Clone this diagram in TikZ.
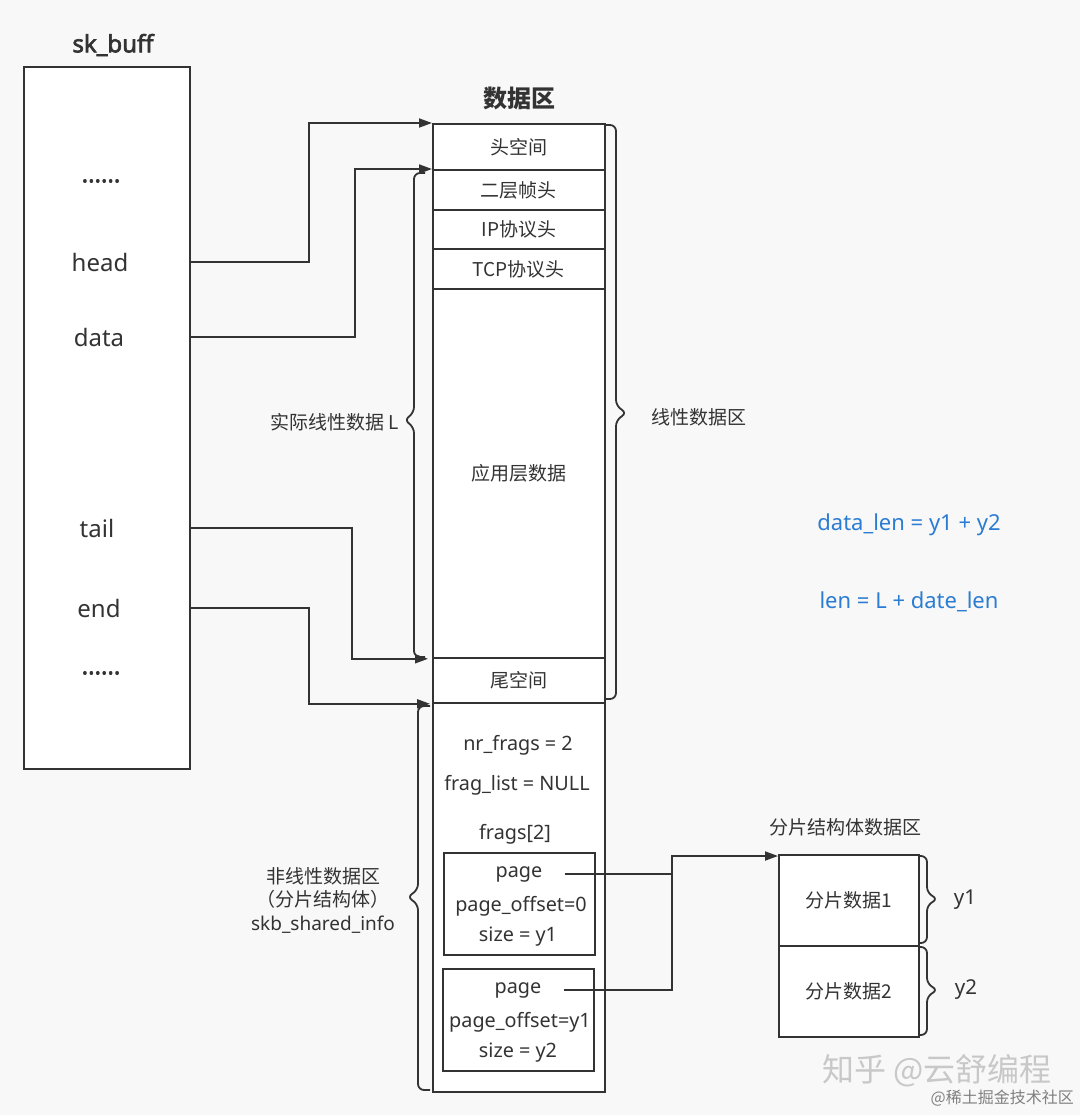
\documentclass[tikz,border=0pt]{standalone}
\usepackage{fontspec}
\setmainfont{Noto Sans}[BoldFont={Noto Sans},BoldFeatures={FakeBold=2.5}]
\newfontfamily\cjk{Noto Sans CJK SC}
\usetikzlibrary{arrows.meta,calc}
\definecolor{bg}{HTML}{F8F8F8}
\definecolor{ln}{HTML}{333333}
\definecolor{tx}{HTML}{333333}
\definecolor{blu}{HTML}{2B7CD3}
\definecolor{wm}{HTML}{C8C8C8}
\begin{document}
\begin{tikzpicture}[x=1pt,y=-1pt,
 box/.style={draw=ln,line width=1.8pt,fill=white,inner sep=0pt,anchor=north west,text=tx,font=\cjk\fontsize{19}{23}\selectfont},
 lbl/.style={text=tx,font=\fontsize{19.8}{23}\selectfont,inner sep=0pt},
 zh/.style={text=tx,font=\cjk\fontsize{19}{23}\selectfont,inner sep=0pt},
 item/.style={text=tx,font=\fontsize{24}{30}\selectfont,inner sep=0pt},
 ttl/.style={text=tx,font=\bfseries\fontsize{24}{28}\selectfont,inner sep=0pt},
 blue/.style={text=blu,font=\fontsize{22}{26}\selectfont,inner sep=0pt},
 arr/.style={draw=ln,line width=1.8pt,-{Triangle[length=13pt,width=9pt]}},
 wire/.style={draw=ln,line width=1.8pt},
 brace/.style={draw=ln,line width=1.8pt,rounded corners=6pt}]
\fill[bg] (0,0) rectangle (1080,1115);
\useasboundingbox (0,0) rectangle (1080,1115);

% sk_buff
\node[ttl] (skbt) at (113,45) {sk\_buff};
\node[box,minimum width=166pt,minimum height=702pt] (skb) at (23,66) {};
\node[item] (d1) at (101,181) {\bfseries ......};
\node[item] (hd) at (100,262) {head};
\node[item] (dt) at (99,337) {data};
\node[item] (tl) at (97,528) {tail};
\node[item] (en) at (99,608) {end};
\node[item] (d2) at (101,673) {\bfseries ......};

% data area
\node[ttl,font=\cjk\bfseries\fontsize{24}{28}\selectfont] (dat) at (519,98) {数据区};
\node[box,minimum width=172pt,minimum height=46pt] (hs) at (432,123) {头空间};
\node[box,minimum width=172pt,minimum height=40pt] (l2) at (432,169) {二层帧头};
\node[box,minimum width=172pt,minimum height=39pt] (ip) at (432,209) {IP协议头};
\node[box,minimum width=172pt,minimum height=40pt] (tcp) at (432,248) {TCP协议头};
\node[box,minimum width=172pt,minimum height=369pt] (app) at (432,288) {应用层数据};
\node[box,minimum width=172pt,minimum height=45pt] (ts) at (432,657) {尾空间};
\node[box,minimum width=172pt,minimum height=389pt] (nl) at (432,702) {};

\node[lbl] (nr) at (518,745) {nr\_frags = 2};
\node[lbl] (fl) at (517,785) {frag\_list = NULL};
\node[lbl] (fg) at (515,834) {frags[2]};

\node[box,minimum width=151pt,minimum height=102pt] (f1) at (443,852) {};
\node[lbl] (p1) at (519,874) {page};
\node[lbl] (o1) at (521,906) {page\_offset=0};
\node[lbl] (s1) at (518,937) {size = y1};

\node[box,minimum width=151pt,minimum height=102pt] (f2) at (442,968) {};
\node[lbl] (p2) at (518,990) {page};
\node[lbl] (o2) at (520,1022) {page\_offset=y1};
\node[lbl] (s2) at (518,1053) {size = y2};

% fragment data
\node[zh] (fdt) at (845,827) {分片结构体数据区};
\node[box,minimum width=140pt,minimum height=91pt] (fd1) at (778,854) {分片数据1};
\node[box,minimum width=140pt,minimum height=91pt] (fd2) at (778,945) {分片数据2};
\node[lbl,font=\fontsize{20.5}{24}\selectfont] (y1) at (965,900) {y1};
\node[lbl,font=\fontsize{20.5}{24}\selectfont] (y2) at (966,990) {y2};

% braces
\draw[brace] (425,173) -- (414,173) -- (414,413) -- (404,420) -- (414,427) -- (414,657) -- (425,657);
\node[zh,anchor=east] (bl) at (399,422) {实际线性数据 L};
\draw[brace] (606,125) -- (616,125) -- (616,406) -- (627,413) -- (616,420) -- (616,699) -- (606,699);
\node[zh,anchor=west] (br) at (651,417) {线性数据区};
\draw[brace] (430,706) -- (418,706) -- (418,890) -- (407,897) -- (418,904) -- (418,1090) -- (430,1090);
\node[zh,align=center,font=\cjk\fontsize{19}{23.5}\selectfont] (bn) at (323,900) {非线性数据区\\（分片结构体）\\{\fontspec{Noto Sans}skb\_shared\_info}};
\draw[brace] (918,856) -- (927,856) -- (927,893) -- (938,899) -- (927,905) -- (927,943) -- (918,943);
\draw[brace] (918,947) -- (927,947) -- (927,984) -- (938,990) -- (927,996) -- (927,1035) -- (918,1035);

% blue notes
\node[blue] (n1) at (909,525) {data\_len = y1 + y2};
\node[blue] (n2) at (909,602) {len = L + date\_len};

% connectors
\draw[arr] (skb.east |- hd) -| ($(hs.north west)+(-123,0)$) -- (hs.north west);
\draw[arr] (skb.east |- dt) -| ($(l2.north west)+(-77,0)$) -- (l2.north west);
\draw[arr,shorten >=4pt] (skb.east |- tl) -| ($(app.south west)+(-80,0)$) -- (app.south west);
\draw[arr,shorten >=2pt] (skb.east |- en) -| ($(ts.south west)+(-123,0)$) -- (ts.south west);
\draw[arr] ($(p1.east)+(22,0)$) -| ($(fd1.north west)+(-106,2)$) -- ($(fd1.north west)+(0,2)$);
\draw[wire] ($(p2.east)+(22,0)$) -| ($(fd1.north west)+(-106,2)$);

% watermark
\node[text=wm,font=\cjk\fontsize{32}{36}\selectfont,inner sep=0pt,anchor=west] (wm1) at (822,1071) {知乎 @云舒编程};
\node[text=gray,font=\cjk\fontsize{16}{20}\selectfont,inner sep=0pt,anchor=east] (wm2) at (1074,1098) {@稀土掘金技术社区};
\end{tikzpicture}
\end{document}
